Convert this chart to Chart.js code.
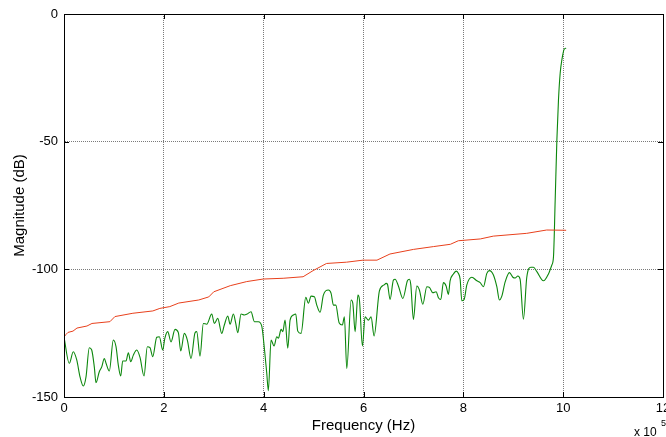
<!DOCTYPE html>
<html><head><meta charset="utf-8">
<script src="https://cdn.jsdelivr.net/npm/chart.js@4"></script>
<style>html,body{margin:0;padding:0;overflow:hidden;background:#fff}
#wrap{width:680px;height:437px;position:relative}</style></head>
<body><div id="wrap"><canvas id="c" width="680" height="437"></canvas></div>
<script>
const xTicks = [0, 2, 4, 6, 8, 10, 12];
const yTicks = [-150, -100, -50, 0];
const xTitle = 'Frequency (Hz)';
const yTitle = 'Magnitude (dB)';
const xExponent = '5';

const redX = [0, 0.04, 0.08, 0.18, 0.26, 0.46, 0.56, 0.92, 1.02, 1.38, 1.78, 1.92, 2.12, 2.3, 2.7, 2.9, 3.0, 3.33, 3.66, 3.99, 4.39, 4.79, 4.99, 5.26, 5.66, 5.99, 6.27, 6.53, 7.0, 7.4, 7.74, 7.9, 8.34, 8.6, 9.27, 9.67, 10.06];
const redY = [-126.5, -125.5, -124.7, -124.2, -123, -122.2, -121.2, -120.5, -118.5, -117.2, -116.3, -115.3, -114.6, -113.2, -112, -110.8, -108.8, -106.4, -104.8, -103.8, -103.5, -102.9, -100.5, -97.7, -97.2, -96.4, -96.4, -94, -92.2, -91.1, -90.2, -88.8, -88.1, -87, -85.9, -84.6, -84.7];

const greenX = [0, 0.106, 0.186, 0.255, 0.321, 0.387, 0.441, 0.507, 0.555, 0.607, 0.641, 0.707, 0.756, 0.808, 0.842, 0.908, 0.988, 1.042, 1.088, 1.136, 1.176, 1.242, 1.289, 1.337, 1.389, 1.457, 1.523, 1.603, 1.669, 1.723, 1.778, 1.858, 1.910, 1.978, 2.02, 2.078, 2.144, 2.224, 2.291, 2.339, 2.411, 2.471, 2.545, 2.625, 2.659, 2.725, 2.792, 2.860, 2.960, 3.012, 3.080, 3.160, 3.212, 3.281, 3.327, 3.393, 3.441, 3.481, 3.547, 3.613, 3.661, 3.747, 3.814, 3.894, 3.962, 4.014, 4.062, 4.094, 4.148, 4.208, 4.263, 4.295, 4.349, 4.383, 4.429, 4.483, 4.529, 4.595, 4.643, 4.683, 4.749, 4.844, 4.896, 4.950, 5.016, 5.064, 5.130, 5.196, 5.297, 5.351, 5.397, 5.445, 5.511, 5.577, 5.617, 5.665, 5.752, 5.786, 5.832, 5.888, 5.918, 5.978, 6.032, 6.098, 6.152, 6.212, 6.319, 6.413, 6.453, 6.479, 6.533, 6.599, 6.633, 6.699, 6.788, 6.880, 6.920, 6.948, 7.000, 7.068, 7.120, 7.188, 7.269, 7.321, 7.389, 7.455, 7.501, 7.549, 7.601, 7.655, 7.701, 7.735, 7.802, 7.856, 7.902, 7.936, 7.970, 8.016, 8.070, 8.170, 8.271, 8.337, 8.403, 8.471, 8.523, 8.603, 8.671, 8.723, 8.771, 8.838, 8.924, 8.992, 9.038, 9.092, 9.138, 9.204, 9.271, 9.353, 9.405, 9.473, 9.605, 9.705, 9.773, 9.806, 9.840, 9.874, 9.906, 9.940, 9.974, 10.020, 10.060];
const greenY = [-126.5, -136.8, -132.3, -135.5, -142.1, -145.7, -142.1, -130.7, -131.6, -138.2, -144.4, -140.1, -138.2, -134.9, -136.8, -139.8, -127.7, -130.3, -137.5, -141.8, -135.9, -135.9, -132.7, -136.2, -133.6, -131.6, -134.5, -141.8, -130.3, -130.7, -134.2, -126.6, -126.4, -131.6, -127.0, -124.4, -128.4, -123.5, -124.8, -132.0, -125.1, -127.7, -134.9, -124.8, -124.4, -134.0, -121.2, -121.5, -117.5, -121.2, -119.2, -125.1, -121.8, -118.3, -121.5, -117.5, -121.2, -124.8, -117.5, -117.9, -117.6, -116.6, -120.5, -120.5, -122.2, -130.9, -140.7, -147.5, -127.7, -130.0, -126.4, -127.0, -123.5, -124.4, -119.9, -130.9, -119.9, -117.9, -117.5, -124.2, -125.1, -111.0, -113.3, -110.5, -110.7, -114.0, -116.8, -110.1, -108.1, -109.4, -114.0, -114.0, -120.9, -121.8, -118.6, -138.8, -112.0, -113.3, -124.4, -110.1, -111.8, -130.0, -118.6, -119.9, -118.6, -126.1, -108.4, -106.1, -105.5, -105.8, -111.8, -104.2, -103.9, -106.5, -111.4, -104.5, -103.9, -106.1, -119.6, -106.5, -108.1, -113.7, -106.8, -107.1, -109.2, -108.8, -111.1, -111.8, -105.2, -106.5, -109.8, -104.5, -101.8, -100.7, -101.6, -103.9, -112.3, -111.8, -106.1, -103.1, -104.5, -105.2, -106.8, -101.6, -100.5, -102.2, -106.8, -112.0, -110.5, -104.9, -101.3, -103.1, -103.4, -102.6, -103.9, -119.5, -103.1, -99.2, -99.2, -100.9, -104.5, -101.8, -98.3, -95.1, -72.9, -49.4, -33.7, -23.2, -18.0, -13.8, -13.4];

const FONT = '"Liberation Sans", Arial, Helvetica, sans-serif';

const framePlugin = {
  id: 'frame',
  afterDraw(chart) {
    const {ctx, chartArea: a, scales} = chart;
    ctx.save();
    ctx.strokeStyle = '#000';
    ctx.lineWidth = 1;
    ctx.strokeRect(Math.round(a.left) + 0.5, Math.round(a.top) + 0.5, Math.round(a.right - a.left), Math.round(a.bottom - a.top));
    const tl = 5;
    ctx.beginPath();
    xTicks.forEach(v => {
      const px = Math.round(scales.x.getPixelForValue(v)) + 0.5;
      ctx.moveTo(px, a.bottom); ctx.lineTo(px, a.bottom - tl);
      ctx.moveTo(px, a.top); ctx.lineTo(px, a.top + tl);
    });
    yTicks.forEach(v => {
      const py = Math.round(scales.y.getPixelForValue(v)) + 0.5;
      ctx.moveTo(a.left, py); ctx.lineTo(a.left + tl, py);
      ctx.moveTo(a.right, py); ctx.lineTo(a.right - tl, py);
    });
    ctx.stroke();
    ctx.fillStyle = '#000';
    ctx.textBaseline = 'alphabetic';
    ctx.textAlign = 'left';
    ctx.font = '12px ' + FONT;
    ctx.fillText('x 10', a.right - 29, 436);
    ctx.font = '9px ' + FONT;
    ctx.fillText(xExponent, a.right - 2, 426);
    ctx.restore();
  }
};

new Chart(document.getElementById('c'), {
  type: 'line',
  data: {
    datasets: [
      {data: redX.map((x, i) => ({x, y: redY[i]})), borderColor: '#e8401c', borderWidth: 1, pointRadius: 0, tension: 0, fill: false},
      {data: greenX.map((x, i) => ({x, y: greenY[i]})), borderColor: '#0c870c', borderWidth: 1.1, pointRadius: 0, cubicInterpolationMode: 'monotone', fill: false}
    ]
  },
  options: {
    responsive: false,
    animation: false,
    events: [],
    plugins: {legend: {display: false}, tooltip: {enabled: false}},
    layout: {padding: {left: 0, right: 17, top: 14, bottom: 0}},
    scales: {
      x: {
        type: 'linear', min: 0, max: 12,
        afterBuildTicks: s => { s.ticks = xTicks.map(v => ({value: v})); },
        afterFit: s => { s.height = 40; },
        ticks: {autoSkip: false, maxRotation: 0, padding: 4, color: '#000', font: {family: FONT, size: 13}},
        grid: {color: '#7a7a7a', drawTicks: false, lineWidth: 1},
        border: {display: true, color: '#000', dash: [1, 1]},
        title: {display: true, text: xTitle, color: '#000', font: {family: FONT, size: 15}, padding: {top: 0, bottom: 2}}
      },
      y: {
        type: 'linear', min: -150, max: 0,
        afterBuildTicks: s => { s.ticks = yTicks.map(v => ({value: v})); },
        afterFit: s => { s.width = 64; },
        ticks: {autoSkip: false, padding: 6, color: '#000', font: {family: FONT, size: 13}},
        grid: {color: '#7a7a7a', drawTicks: false, lineWidth: 1},
        border: {display: true, color: '#000', dash: [1, 1]},
        title: {display: true, text: yTitle, color: '#000', font: {family: FONT, size: 15}, padding: {top: 11, bottom: 0}}
      }
    }
  },
  plugins: [framePlugin]
});
</script></body></html>
